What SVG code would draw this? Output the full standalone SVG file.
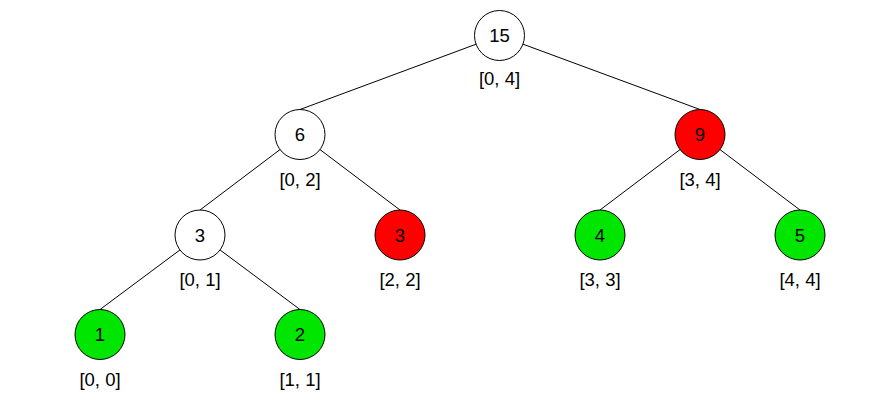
<svg xmlns="http://www.w3.org/2000/svg" width="896" height="408" viewBox="0 0 896 408">
<style>
.e{stroke:#000;stroke-width:1;fill:none}
circle{stroke:#000;stroke-width:1}
.w{fill:#fff}.r{fill:#ff0000}.g{fill:#00e600}
text{font-family:"Liberation Sans",Arial,sans-serif;font-size:18.5px;text-anchor:middle;fill:#000}
</style>
<rect width="896" height="408" fill="#fff"/>
<g id="edges">
<line class="e" x1="499.5" y1="35.5" x2="300" y2="109.5"/>
<line class="e" x1="499.5" y1="35.5" x2="700" y2="109.5"/>
<line class="e" x1="300" y1="134.5" x2="200" y2="210"/>
<line class="e" x1="300" y1="134.5" x2="400" y2="210"/>
<line class="e" x1="700" y1="134.5" x2="600" y2="210"/>
<line class="e" x1="700" y1="134.5" x2="800" y2="210"/>
<line class="e" x1="200" y1="235" x2="100" y2="309.5"/>
<line class="e" x1="200" y1="235" x2="300" y2="309.5"/>
</g>
<g id="n15"><circle class="w" cx="499.5" cy="35.5" r="25"/><text x="499.5" y="42">15</text><text x="499.5" y="85">[0, 4]</text></g>
<g id="n6"><circle class="w" cx="300" cy="134.5" r="25"/><text x="300" y="141">6</text><text x="300" y="185.5">[0, 2]</text></g>
<g id="n9"><circle class="r" cx="700" cy="134.5" r="25"/><text x="700" y="141">9</text><text x="700" y="185.5">[3, 4]</text></g>
<g id="n3a"><circle class="w" cx="200" cy="235" r="25"/><text x="200" y="241.5">3</text><text x="200" y="285.5">[0, 1]</text></g>
<g id="n3b"><circle class="r" cx="400" cy="235" r="25"/><text x="400" y="241.5">3</text><text x="400" y="285.5">[2, 2]</text></g>
<g id="n4"><circle class="g" cx="600" cy="235" r="25"/><text x="600" y="241.5">4</text><text x="600" y="285.5">[3, 3]</text></g>
<g id="n5"><circle class="g" cx="800" cy="235" r="25"/><text x="800" y="241.5">5</text><text x="800" y="285.5">[4, 4]</text></g>
<g id="n1"><circle class="g" cx="100" cy="334.5" r="25"/><text x="100" y="341">1</text><text x="100" y="385.5">[0, 0]</text></g>
<g id="n2"><circle class="g" cx="300" cy="334.5" r="25"/><text x="300" y="341">2</text><text x="300" y="385.5">[1, 1]</text></g>
</svg>
